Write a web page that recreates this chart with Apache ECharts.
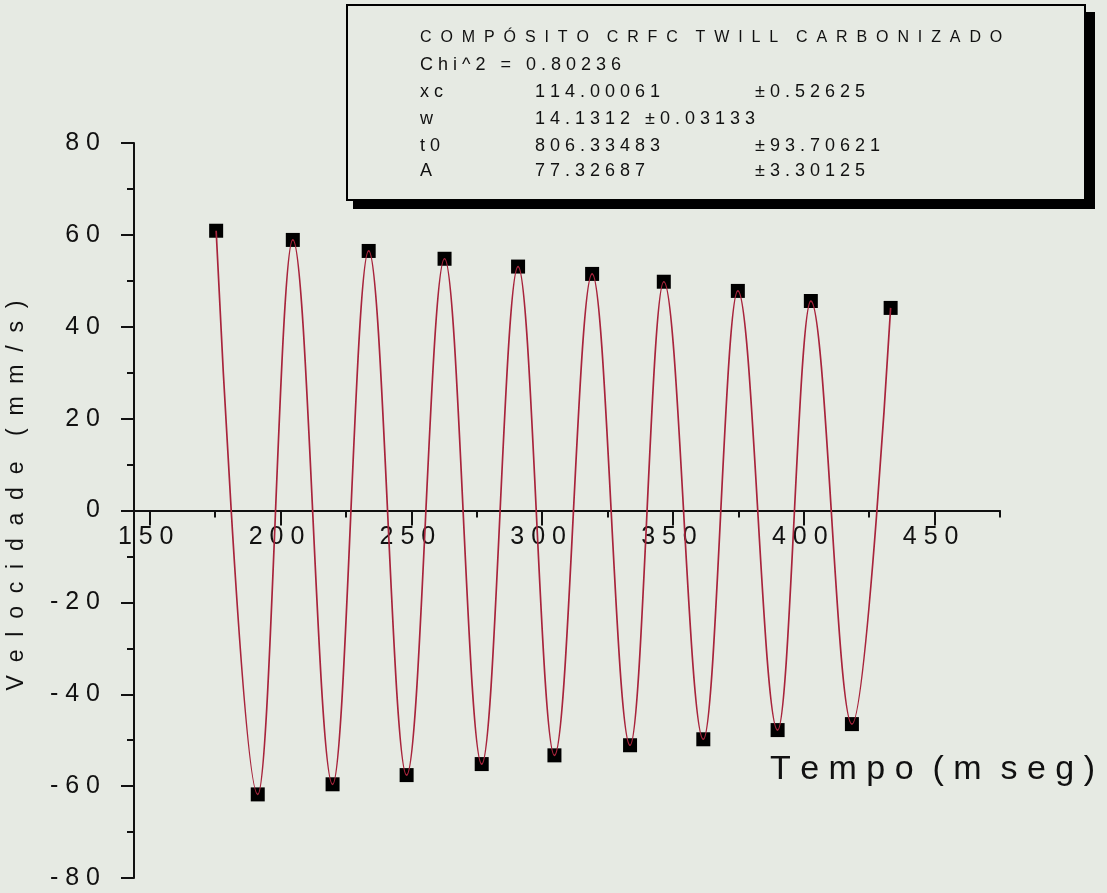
<!DOCTYPE html>
<html>
<head>
<meta charset="utf-8">
<script src="https://cdn.jsdelivr.net/npm/echarts@6/dist/echarts.min.js"></script>
<style>
html,body{margin:0;padding:0;background:#e6eae3;}
#chart{width:1107px;height:893px;}
</style>
</head>
<body>
<div id="chart"></div>
<script>
// ---- data ----
const times = [175.4, 191.3, 204.7, 219.9, 233.7, 248.2, 262.7, 276.9, 290.8, 304.7, 319.1, 333.6, 346.5, 361.6, 374.8, 390.0, 402.7, 418.4, 433.2];
const velocity = [60.9, -61.8, 58.9, -59.6, 56.5, -57.6, 54.8, -55.2, 53.1, -53.3, 51.5, -51.1, 49.8, -49.8, 47.8, -47.8, 45.6, -46.5, 44.1];
const xTickValues = [150, 200, 250, 300, 350, 400, 450];
const xMinorTickValues = [175, 225, 275, 325, 375, 425, 475];
const yAxisTitle = 'Velocidade (mm/s)';
const xAxisTitle = 'Tempo (m seg)';
const fitTitle = 'COMPÓSITO CRFC TWILL CARBONIZADO';
const fitChi = 'Chi^2 = 0.80236';
const fitNames = ['xc', 'w', 't0', 'A'];
const fitValues = ['114.00061', '14.1312 ±0.03133', '806.33483', '77.32687'];
const fitErrors = ['±0.52625', '', '±93.70621', '±3.30125'];

// letter-spaced text, as printed
function spaced(s, gap, wordGap) {
  return s.split(' ').map(w => w.split('').join(gap)).join(wordGap);
}

const FONT = '"Liberation Sans", Arial, Helvetica, sans-serif';
const BG = '#e6eae3';
const INK = '#111';
const points = times.map((t, i) => [t, velocity[i]]);

const GRID_TOP = 143, GRID_BOTTOM = 15, H = 893;
const Y_MIN = -80, Y_MAX = 80;
// x axis sits on y = 0
const zeroOffset = -((H - GRID_BOTTOM - GRID_TOP) * (0 - Y_MIN) / (Y_MAX - Y_MIN));

const chart = echarts.init(document.getElementById('chart'));

const graphics = [
  { type: 'rect', z: 10, shape: { x: 353, y: 12, width: 742, height: 197 }, style: { fill: '#000' } },
  { type: 'rect', z: 11, shape: { x: 347, y: 5, width: 738, height: 195 }, style: { fill: BG, stroke: '#000', lineWidth: 2 } },
  { type: 'text', z: 12, x: 420, y: 38, style: { text: spaced(fitTitle, '  ', '    '), font: '16px ' + FONT, fill: INK, verticalAlign: 'middle' } },
  { type: 'text', z: 12, x: 420, y: 65, style: { text: spaced(fitChi, ' ', '   '), font: '18px ' + FONT, fill: INK, verticalAlign: 'middle' } }
];
const rowY = [92, 119, 146, 171];
fitNames.forEach((n, i) => {
  graphics.push({ type: 'text', z: 12, x: 420, y: rowY[i], style: { text: spaced(n, ' ', '   '), font: '18px ' + FONT, fill: INK, verticalAlign: 'middle' } });
  graphics.push({ type: 'text', z: 12, x: 535, y: rowY[i], style: { text: spaced(fitValues[i], ' ', '   '), font: '18px ' + FONT, fill: INK, verticalAlign: 'middle' } });
  if (fitErrors[i]) {
    graphics.push({ type: 'text', z: 12, x: 755, y: rowY[i], style: { text: spaced(fitErrors[i], ' ', '   '), font: '18px ' + FONT, fill: INK, verticalAlign: 'middle' } });
  }
});
graphics.push({ type: 'text', z: 12, x: 770, y: 770, style: { text: spaced(xAxisTitle, ' ', '  '), font: '34px ' + FONT, fill: INK, verticalAlign: 'middle' } });

const tickLabel = v => String(v).split('').join(' ');

chart.setOption({
  backgroundColor: BG,
  animation: false,
  textStyle: { fontFamily: FONT },
  grid: { left: 134, right: 107, top: GRID_TOP, bottom: GRID_BOTTOM, containLabel: false, outerBoundsMode: 'none' },
  xAxis: [
    {
      type: 'value', min: 144, max: 475, position: 'bottom', offset: zeroOffset,
      axisLine: { onZero: false, lineStyle: { color: INK, width: 2 } },
      axisTick: { show: true, customValues: xTickValues, length: 15, lineStyle: { color: INK, width: 2 } },
      axisLabel: { show: true, customValues: xTickValues, formatter: tickLabel, fontSize: 25, color: INK, margin: 14, padding: [0, 8, 0, 0], fontFamily: FONT },
      splitLine: { show: false }
    },
    {
      type: 'value', min: 144, max: 475, position: 'bottom', offset: zeroOffset,
      axisLine: { show: false, onZero: false },
      axisTick: { show: true, customValues: xMinorTickValues, length: 7, lineStyle: { color: INK, width: 2 } },
      axisLabel: { show: false },
      splitLine: { show: false }
    }
  ],
  yAxis: {
    type: 'value', min: Y_MIN, max: Y_MAX, interval: 20,
    name: spaced(yAxisTitle, '  ', '    '), nameLocation: 'middle', nameGap: 106, nameRotate: 90,
    nameTextStyle: { fontSize: 23, color: INK, fontFamily: FONT, padding: [0, 0, 0, 30] },
    axisLine: { show: true, onZero: false, lineStyle: { color: INK, width: 2 } },
    axisTick: { show: true, length: 13, lineStyle: { color: INK, width: 2 } },
    minorTick: { show: true, splitNumber: 2, length: 7, lineStyle: { color: INK, width: 2 } },
    axisLabel: { formatter: tickLabel, fontSize: 25, color: INK, margin: 34, fontFamily: FONT },
    splitLine: { show: false }
  },
  graphic: graphics,
  series: [
    {
      type: 'scatter', data: points, symbol: 'rect', symbolSize: 14,
      itemStyle: { color: '#000', opacity: 1 }, z: 2
    },
    {
      type: 'line', data: points, smooth: 0.36, smoothMonotone: 'x', showSymbol: false,
      lineStyle: { color: '#a8243c', width: 1.7 }, z: 3
    }
  ]
});
</script>
</body>
</html>
